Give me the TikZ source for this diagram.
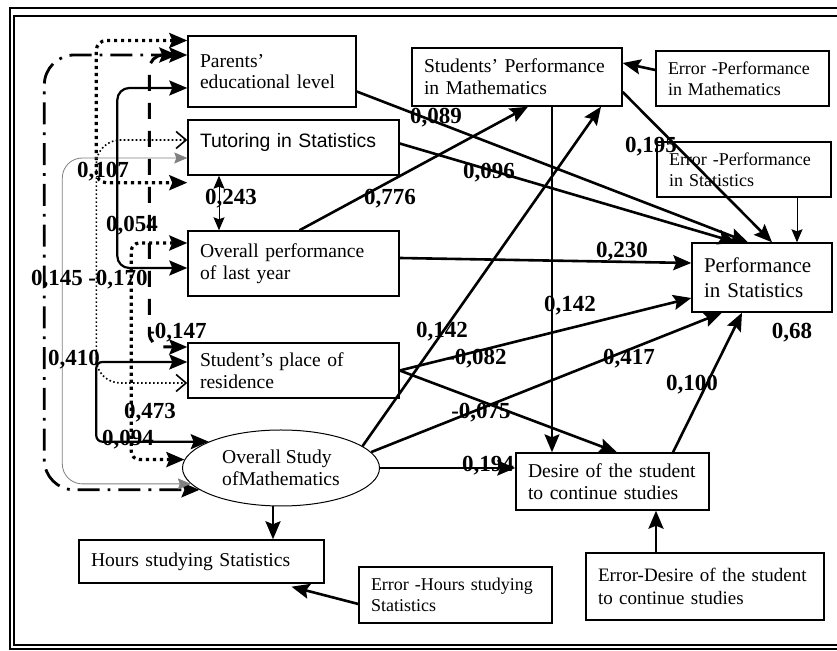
\documentclass[tikz,border=0pt]{standalone}
\usepackage{fontspec}
\setmainfont{Liberation Serif}
\newfontfamily\arialfont{Liberation Sans}
\usetikzlibrary{arrows.meta,shapes.geometric}

\begin{document}
\begin{tikzpicture}[
  x=0.5pt,y=-0.5pt,
  >={Stealth[length=9pt,width=7.5pt,inset=1.5pt]},
  sm/.tip={Stealth[length=6.5pt,width=5.5pt,inset=1pt]},
  ob/.tip={Straight Barb[length=5pt,width=8.5pt]},
  box/.style={draw,line width=0.7pt,align=left,inner xsep=6pt,inner ysep=0pt,font=\fontsize{9.8}{10.8}\selectfont},
  errbox/.style={box,font=\fontsize{9}{10.5}\selectfont},
  latent/.style={ellipse,draw,line width=0.5pt,align=left,inner sep=0pt,minimum width=98.5pt,minimum height=38pt,font=\fontsize{9.8}{11}\selectfont},
  coef/.style={font=\bfseries\fontsize{11.5}{12}\selectfont,inner sep=0pt},
  arr/.style={->,line width=1.3pt},
  thinarr/.style={-{sm},line width=0.5pt},
  corrsolid/.style={<->,line width=1.1pt},
  corrdot/.style={<->,line width=1.6pt,dash pattern=on 1.6pt off 1.9pt},
  corrfine/.style={{ob}-{ob},line width=0.8pt,dash pattern=on 0.8pt off 1.2pt},
  corrdashdot/.style={<->,line width=1.4pt,dash pattern=on 11pt off 4pt on 1.4pt off 4pt},
  corrdash/.style={<->,line width=1.5pt,dash pattern=on 8pt off 6pt},
  corrthin/.style={{sm}-{sm},line width=0.4pt,draw=gray},
]
\useasboundingbox (0,0) rectangle (837,651);

% frame
\draw[line width=1.2pt] (837,8) -- (10,8) -- (10,649) -- (837,649);
\draw[line width=0.6pt] (837,16) -- (14,16) -- (14,645) -- (837,645);

% exogenous variables
\node[box,text width=72pt,minimum height=35.5pt] (parents) at (272,71.5) {Parents'\\educational level};
\node[box,text width=93.5pt,minimum height=27.5pt,text depth=7.5pt,font=\arialfont\fontsize{9.7}{11}\selectfont] (tutoring) at (293.5,147.5) {Tutoring in Statistics};
\node[box,text width=93.5pt,minimum height=32.5pt] (lastyear) at (293.5,263.5) {Overall performance\\of last year};
\node[box,text width=93.5pt,minimum height=27.5pt] (residence) at (293.5,370.5) {Student's place of\\residence};
\node[latent] (studymath) at (281,468) {Overall Study\\ofMathematics};
\node[box,text width=110.5pt,minimum height=21.5pt] (hours) at (201.5,561.5) {Hours studying Statistics};
\node[errbox,text width=84.5pt,minimum height=28pt] (errhours) at (455.5,595) {Error -Hours studying\\Statistics};

% endogenous variables
\node[box,text width=93pt,minimum height=29pt] (perfmath) at (517,77) {Students' Performance\\in Mathematics};
\node[errbox,text width=74.5pt,minimum height=27.5pt] (errmath) at (742.5,78.5) {Error -Performance\\in Mathematics};
\node[errbox,text width=75pt,minimum height=27.5pt] (errstat) at (744,169.5) {Error -Performance\\in Statistics};
\node[box,text width=58pt,minimum height=34.5pt,font=\fontsize{10.5}{12.5}\selectfont] (perfstat) at (762,277.5) {Performance\\in Statistics};
\node[box,text width=84.5pt,minimum height=28.5pt,font=\fontsize{9.8}{11}\selectfont] (desire) at (612.5,481.5) {Desire of the student\\to continue studies};
\node[errbox,text width=107pt,minimum height=33.5pt,font=\fontsize{9.5}{11.5}\selectfont] (errdesire) at (705,586.5) {Error-Desire of the student\\to continue studies};

% direct effects
\draw[arr] ([yshift=-10pt]parents.east) -- ([xshift=-7pt]perfstat.north);
\draw[arr] ([yshift=2pt]tutoring.east) -- ([xshift=-13pt]perfstat.north);
\draw[arr] ([xshift=3pt]lastyear.north) -- ([xshift=5.5pt]perfmath.south);
\draw[arr] ([yshift=2.75pt]lastyear.east) -- ([yshift=7.25pt]perfstat.west);
\draw[arr] ([yshift=-7.5pt]perfmath.east) -- ([xshift=5pt]perfstat.north);
\draw[arr] ([yshift=4.25pt]errmath.west) -- ([yshift=7pt]perfmath.east);
\draw[thinarr] ([xshift=26.5pt]errstat.south) -- ([xshift=17.5pt]perfstat.north);
\draw[arr,line width=0.85pt] ([xshift=17.5pt]perfmath.south) -- ([xshift=-30.25pt]desire.north);
\draw[arr] (studymath.15) -- ([xshift=42pt]perfmath.south);
\draw[arr] (residence.east) -- ([yshift=-10.25pt]perfstat.west);
\draw[arr] (residence.east) -- ([xshift=2.25pt]desire.north);
\draw[arr] (studymath.10) -- ([xshift=-20pt]perfstat.south);
\draw[arr] (studymath.east) -- ([yshift=6.75pt]desire.west);
\draw[arr] ([xshift=30.25pt]desire.north) -- ([xshift=-10pt]perfstat.south);
\draw[arr] ([xshift=-4pt]studymath.south) -- ([xshift=35.75pt]hours.north);
\draw[arr] ([yshift=-4.5pt]errhours.west) -- ([xshift=45pt,yshift=-1.5pt]hours.south);
\draw[arr] ([xshift=-24.5pt]errdesire.north) -- ([xshift=21.75pt]desire.south);
\draw[{sm}-{sm},line width=0.5pt] ([xshift=-37.25pt]tutoring.south) -- ([xshift=-37.25pt]lastyear.north);

% correlations
\draw[corrdot,rounded corners=5pt] ([yshift=15.5pt]parents.west) -- ++(-45.5pt,0) |- ([yshift=-3.5pt]tutoring.south west);
\draw[corrfine,rounded corners=12pt] ([yshift=3.75pt]tutoring.west) -- ++(-45.5pt,0) |- ([yshift=-6.25pt]residence.west);
\draw[corrdashdot,rounded corners=15pt] ([yshift=8.25pt]parents.west) -- ++(-71.5pt,0) |- (studymath.195);
\draw[corrthin,rounded corners=10pt] ([yshift=-5.25pt]tutoring.west) -- ++(-62.5pt,0) |- (studymath.190);
\draw[corrsolid,rounded corners=6pt] ([yshift=-8.25pt]parents.west) -- ++(-35pt,0) |- ([yshift=-2.25pt]lastyear.west);
\draw[corrdot,rounded corners=4pt] ([yshift=10.25pt]lastyear.west) -- ++(-28pt,0) |- (studymath.175);
\draw[corrsolid,rounded corners=3pt] ([yshift=4.25pt]residence.west) -- ++(-45.5pt,0) |- (studymath.160);
\draw[corrdash,rounded corners=7pt] ([xshift=-5pt,yshift=8.25pt]parents.west) -- ++(-14pt,0) |- ([yshift=11.75pt]residence.west);

% coefficients
\node[coef] (c089) at (436,118) {0,089};
\node[coef] (c096) at (489,173) {0,096};
\node[coef] (c195) at (651,147) {0,195};
\node[coef] (c776) at (390,199) {0,776};
\node[coef] (c243) at (231,199) {0,243};
\node[coef] (c107) at (103,172) {0,107};
\node[coef] (c054) at (132,226) {0,054};
\node[coef] (c145) at (57,280) {0,145};
\node[coef] (c170) at (118,280) {-0,170};
\node[coef] (c147) at (177,333) {-0,147};
\node[coef] (c410) at (74,360) {0,410};
\node[coef] (c473) at (150,413) {0,473};
\node[coef] (c094) at (128,440) {0,094};
\node[coef] (c230) at (622,252) {0,230};
\node[coef] (c142v) at (570,306) {0,142};
\node[coef] (c142d) at (442,332) {0,142};
\node[coef] (c082) at (477,359) {-0,082};
\node[coef] (c417) at (629,359) {0,417};
\node[coef] (c100) at (692,385) {0,100};
\node[coef] (c075) at (481,413) {-0,075};
\node[coef] (c68) at (792,333) {0,68};
\node[coef] (c194) at (488,466) {0,194};

\end{tikzpicture}
\end{document}
